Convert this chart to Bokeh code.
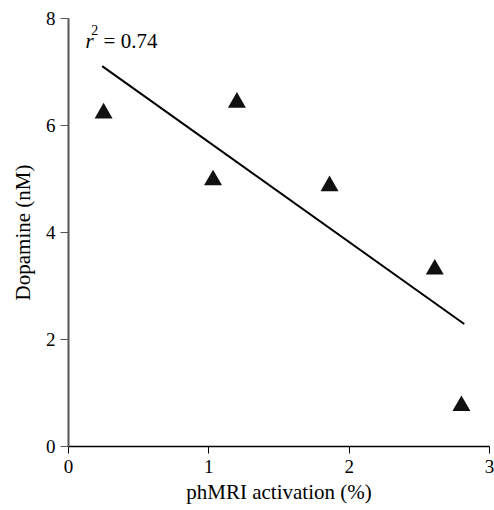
from bokeh.plotting import figure
from bokeh.models import FixedTicker, Label, Range1d
from bokeh.embed import file_html
from bokeh.resources import INLINE

# data
activation = [0.25, 1.03, 1.20, 1.86, 2.61, 2.80]
dopamine = [6.23, 4.98, 6.43, 4.87, 3.31, 0.76]
fit_x = [0.24, 2.82]
fit_y = [7.11, 2.29]
x_ticks = [0, 1, 2, 3]
y_ticks = [0, 2, 4, 6, 8]
r2_text = "0.74"

FONT = "Liberation Serif"

p = figure(width=494, height=510, output_backend="svg", toolbar_location=None,
           x_range=Range1d(0, 3), y_range=Range1d(0, 8),
           min_border_left=68, min_border_right=5, min_border_top=18, min_border_bottom=64)
p.outline_line_color = None
p.grid.visible = False
p.background_fill_color = "white"
p.border_fill_color = "white"

p.line(fit_x, fit_y, line_color="black", line_width=2)
p.scatter(activation, dopamine, marker="triangle", size=18, fill_color="#111111", line_color=None)

for ax, ticks in ((p.xaxis, x_ticks), (p.yaxis, y_ticks)):
    ax.ticker = FixedTicker(ticks=ticks)
    ax.minor_tick_line_color = None
    ax.major_tick_in = 0
    ax.major_tick_out = 7
    ax.major_label_text_font = FONT
    ax.major_label_text_font_size = "19px"
    ax.major_label_text_color = "black"
    ax.axis_label_text_font = FONT
    ax.axis_label_text_font_size = "21px"
    ax.axis_label_text_font_style = "normal"
    ax.axis_label_text_color = "black"

p.xaxis.axis_label = "phMRI activation (%)"
p.xaxis.axis_line_color = "black"
p.xaxis.axis_line_width = 1.3
p.xaxis.major_tick_line_color = "black"
p.xaxis.major_label_standoff = 6
p.xaxis.axis_label_standoff = 4

p.yaxis.axis_label = "Dopamine (nM)"
p.yaxis.axis_line_color = "#555555"
p.yaxis.axis_line_width = 2
p.yaxis.major_tick_line_color = "#555555"
p.yaxis.major_tick_out = 8
p.yaxis.major_label_standoff = 5
p.yaxis.axis_label_standoff = 8

p.add_layout(Label(x=0.121, y=7.58, text="r", text_font=FONT, text_font_style="italic",
                   text_font_size="21px", text_baseline="alphabetic", text_color="black"))
p.add_layout(Label(x=0.162, y=7.78, text="2", text_font=FONT,
                   text_font_size="14px", text_baseline="alphabetic", text_color="black"))
p.add_layout(Label(x=0.25, y=7.58, text="= " + r2_text, text_font=FONT,
                   text_font_size="21px", text_baseline="alphabetic", text_color="black"))

open("out.html", "w").write(file_html(p, INLINE))
